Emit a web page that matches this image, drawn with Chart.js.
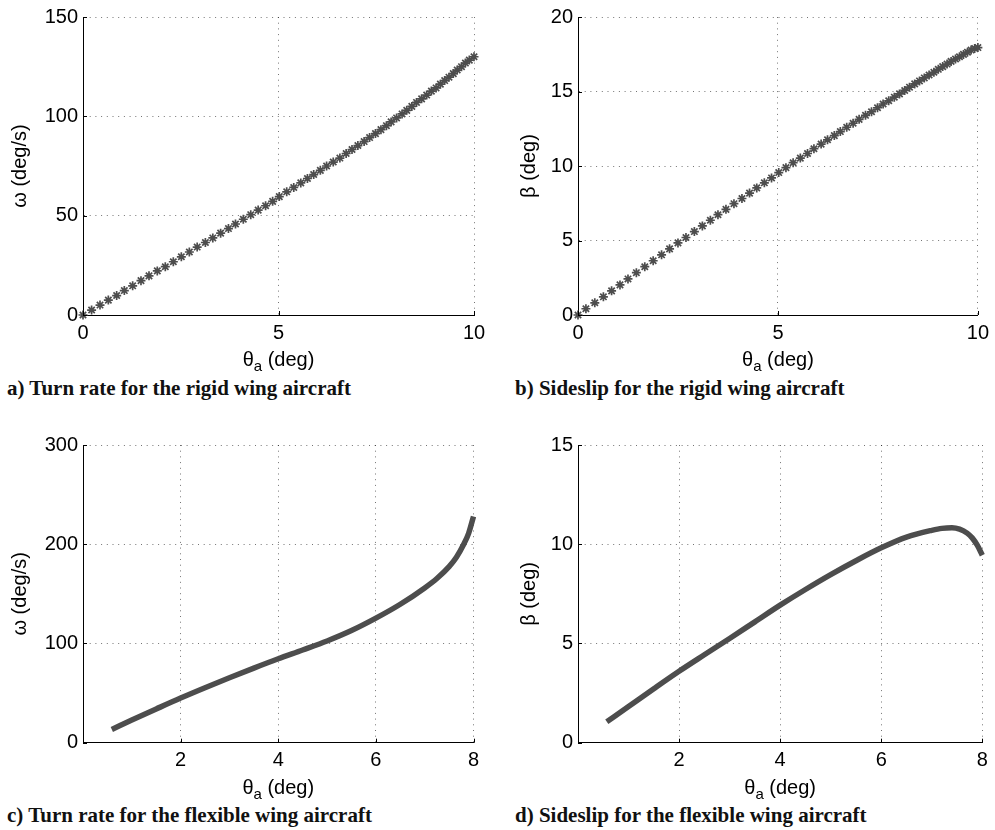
<!DOCTYPE html>
<html>
<head>
<meta charset="utf-8">
<script src="https://cdn.jsdelivr.net/npm/chart.js@4.4.0/dist/chart.umd.min.js"></script>
<style>
  body { margin: 0; background: #fff; width: 995px; height: 830px; position: relative; overflow: hidden; }
  canvas { position: absolute; }
  .caption { position: absolute; font-family: "Liberation Serif", "Times New Roman", serif; font-weight: bold;
             font-size: 21px; color: #111; white-space: nowrap; line-height: 22px; }
</style>
</head>
<body>
<canvas id="chart-a" width="495" height="375" style="left:0;top:0"></canvas>
<canvas id="chart-b" width="500" height="375" style="left:495px;top:0"></canvas>
<canvas id="chart-c" width="495" height="375" style="left:0;top:428px"></canvas>
<canvas id="chart-d" width="500" height="375" style="left:495px;top:428px"></canvas>
<div class="caption" style="left:7px;top:377px">a) Turn rate for the rigid wing aircraft</div>
<div class="caption" style="left:515px;top:377px">b) Sideslip for the rigid wing aircraft</div>
<div class="caption" style="left:7px;top:804px">c) Turn rate for the flexible wing aircraft</div>
<div class="caption" style="left:515px;top:804px">d) Sideslip for the flexible wing aircraft</div>

<script>
// a) rigid wing, turn rate (deg/s) vs aileron angle (deg)
const rigidTheta = [0, 0.22, 0.435, 0.648, 0.861, 1.057, 1.27, 1.483, 1.688, 1.90, 2.105, 2.31, 2.515, 2.72, 2.92,
  3.13, 3.32, 3.52, 3.72, 3.90, 4.10, 4.29, 4.48, 4.67, 4.85, 5.02, 5.21, 5.39, 5.57, 5.74, 5.90, 6.07, 6.23,
  6.40, 6.57, 6.73, 6.88, 7.03, 7.19, 7.33, 7.48, 7.62, 7.76, 7.88, 8.02, 8.16, 8.28, 8.41, 8.53, 8.66, 8.79,
  8.91, 9.03, 9.14, 9.25, 9.36, 9.47, 9.57, 9.68, 9.78, 9.88, 10.0];
const rigidOmega = [0, 2.5, 5.0, 7.5, 9.8, 12.3, 14.7, 17.3, 19.7, 22.2, 24.3, 26.8, 29.3, 31.7, 34.2,
  36.5, 38.8, 41.2, 43.5, 45.8, 48.2, 50.5, 52.8, 55.0, 57.2, 59.6, 62.0, 64.2, 66.5, 68.7, 70.7, 72.8, 75.0,
  77.0, 79.0, 81.3, 83.3, 85.3, 87.3, 89.3, 91.3, 93.3, 95.3, 97.2, 99.2, 101.2, 103.0, 105.0, 107.0, 108.8, 110.7,
  112.7, 114.3, 116.2, 118.0, 119.7, 121.5, 123.3, 125.0, 126.8, 128.3, 130.0];

// b) rigid wing, sideslip (deg)
const rigidThetaB = [0, 0.198, 0.42, 0.635, 0.84, 1.05, 1.25, 1.46, 1.67, 1.88, 2.09, 2.29, 2.50, 2.70, 2.91,
  3.11, 3.31, 3.50, 3.70, 3.90, 4.10, 4.29, 4.47, 4.66, 4.84, 5.02, 5.20, 5.38, 5.56, 5.74, 5.90, 6.08, 6.24,
  6.41, 6.56, 6.72, 6.88, 7.03, 7.19, 7.34, 7.49, 7.63, 7.77, 7.91, 8.04, 8.17, 8.29, 8.42, 8.54, 8.66, 8.78,
  8.90, 9.01, 9.12, 9.23, 9.33, 9.44, 9.54, 9.64, 9.74, 9.83, 9.92, 10.0];
const rigidBeta = [0, 0.42, 0.82, 1.22, 1.62, 2.02, 2.42, 2.84, 3.24, 3.64, 4.04, 4.44, 4.84, 5.2, 5.6,
  5.98, 6.36, 6.73, 7.09, 7.47, 7.82, 8.18, 8.53, 8.87, 9.2, 9.56, 9.89, 10.22, 10.53, 10.84, 11.16, 11.47, 11.76,
  12.04, 12.31, 12.6, 12.87, 13.13, 13.4, 13.64, 13.91, 14.16, 14.38, 14.62, 14.84, 15.07, 15.29, 15.51, 15.71, 15.91, 16.11,
  16.29, 16.49, 16.67, 16.84, 17.02, 17.18, 17.33, 17.49, 17.64, 17.78, 17.89, 17.95];

// c) flexible wing, turn rate
const flexThetaC = [0.59, 1.0, 1.5, 2.0, 2.5, 3.0, 3.5, 4.0, 4.5, 5.0, 5.5, 6.0, 6.5, 7.0, 7.25, 7.5, 7.65, 7.8, 7.9, 8.0];
const flexOmega = [13.4, 22.8, 34.0, 45.0, 55.4, 65.4, 75.2, 84.6, 93.4, 102.5, 113.0, 125.5, 139.5, 156.0, 165.5, 177.5, 187.0, 200.0, 211.0, 228.0];

// d) flexible wing, sideslip
const flexThetaD = [0.57, 1.0, 1.5, 2.0, 2.5, 3.0, 3.5, 4.0, 4.5, 5.0, 5.5, 6.0, 6.5, 7.0, 7.2, 7.4, 7.55, 7.7, 7.8, 7.9, 8.0];
const flexBeta = [1.05, 1.82, 2.72, 3.6, 4.43, 5.25, 6.09, 6.93, 7.72, 8.47, 9.17, 9.82, 10.36, 10.7, 10.8, 10.83, 10.76, 10.56, 10.32, 9.95, 9.45];

const FONT = '"Liberation Sans", Arial, Helvetica, sans-serif';
const FONT_SIZE = 20;

// inward ticks + x label with a subscript, like the matlab figure
const matlabAxes = {
  id: 'matlabAxes',
  afterDraw(chart) {
    const { ctx, chartArea: area, scales: { x, y } } = chart;
    ctx.save();
    ctx.strokeStyle = '#000';
    ctx.lineWidth = 1;
    ctx.beginPath();
    x.ticks.forEach((t) => {
      const px = Math.round(x.getPixelForValue(t.value)) + 0.5;
      ctx.moveTo(px, area.bottom);
      ctx.lineTo(px, area.bottom - 4);
    });
    y.ticks.forEach((t) => {
      const py = Math.round(y.getPixelForValue(t.value)) + 0.5;
      ctx.moveTo(area.left, py);
      ctx.lineTo(area.left + 4, py);
    });
    ctx.stroke();

    const mainFont = FONT_SIZE + 'px ' + FONT;
    const subFont = Math.round(FONT_SIZE * 0.75) + 'px ' + FONT;
    ctx.font = mainFont;
    const w1 = ctx.measureText('θ').width;
    const w3 = ctx.measureText(' (deg)').width;
    ctx.font = subFont;
    const w2 = ctx.measureText('a').width;
    let cx = (area.left + area.right) / 2 - (w1 + w2 + w3) / 2;
    const base = area.bottom + 51;
    ctx.fillStyle = '#000';
    ctx.textAlign = 'left';
    ctx.textBaseline = 'alphabetic';
    ctx.font = mainFont;
    ctx.fillText('θ', cx, base);
    ctx.font = subFont;
    ctx.fillText('a', cx + w1, base + 5);
    ctx.font = mainFont;
    ctx.fillText(' (deg)', cx + w1 + w2, base);
    ctx.restore();
  }
};

function makePanel(canvasId, geo, axes, dataset) {
  const canvas = document.getElementById(canvasId);
  return new Chart(canvas, {
    type: 'scatter',
    data: { datasets: [dataset] },
    plugins: [matlabAxes],
    options: {
      responsive: false,
      animation: false,
      layout: {
        padding: { left: 0, right: canvas.width - geo.right, top: geo.top, bottom: 0 }
      },
      plugins: {
        legend: { display: false },
        tooltip: { enabled: false }
      },
      scales: {
        x: {
          type: 'linear',
          min: axes.xMin,
          max: axes.xMax,
          afterFit: (scale) => { scale.height = canvas.height - geo.bottom; },
          afterBuildTicks: (scale) => {
            scale.ticks = axes.xTicks.map((v) => ({ value: v }));
          },
          ticks: {
            color: '#000',
            padding: 6,
            maxRotation: 0,
            font: { family: FONT, size: FONT_SIZE },
            callback: (v) => (axes.hideZeroX && v === 0 ? '' : v)
          },
          grid: { color: 'rgba(0,0,0,0.55)', lineWidth: 1, drawTicks: false },
          border: { display: true, color: '#000', width: 1, dash: [1, 4.7] }
        },
        y: {
          type: 'linear',
          min: axes.yMin,
          max: axes.yMax,
          afterFit: (scale) => { scale.width = geo.left; },
          afterBuildTicks: (scale) => {
            scale.ticks = axes.yTicks.map((v) => ({ value: v }));
          },
          ticks: {
            color: '#000',
            padding: 5,
            font: { family: FONT, size: FONT_SIZE }
          },
          grid: { color: 'rgba(0,0,0,0.55)', lineWidth: 1, drawTicks: false },
          border: { display: true, color: '#000', width: 1, dash: [1, 4.7] },
          title: {
            display: true,
            text: axes.yTitle,
            color: '#000',
            font: { family: FONT, size: FONT_SIZE },
            padding: { top: geo.titleCenter - FONT_SIZE * 0.6, bottom: 0 }
          }
        }
      }
    }
  });
}

function toPoints(xs, ys) {
  return xs.map((v, i) => ({ x: v, y: ys[i] }));
}

const starSet = (xs, ys) => ({
  data: toPoints(xs, ys),
  showLine: false,
  pointStyle: 'star',
  pointRadius: 4.5,
  borderWidth: 1.7,
  borderColor: '#4d4d4d',
  backgroundColor: '#4d4d4d',
  clip: false
});

const lineSet = (xs, ys) => ({
  data: toPoints(xs, ys),
  showLine: true,
  pointRadius: 0,
  borderWidth: 5.5,
  borderColor: '#4d4d4d',
  cubicInterpolationMode: 'monotone',
  clip: false
});

makePanel('chart-a',
  { left: 83, right: 474, top: 15, bottom: 315, titleCenter: 20 },
  { xMin: 0, xMax: 10, xTicks: [0, 5, 10], yMin: 0, yMax: 150, yTicks: [0, 50, 100, 150], yTitle: 'ω (deg/s)' },
  starSet(rigidTheta, rigidOmega));

makePanel('chart-b',
  { left: 83, right: 487.3, top: 15, bottom: 315, titleCenter: 34 },
  { xMin: 0, xMax: 10, xTicks: [0, 5, 10], yMin: 0, yMax: 20, yTicks: [0, 5, 10, 15, 20], yTitle: 'β (deg)' },
  starSet(rigidThetaB, rigidBeta));

makePanel('chart-c',
  { left: 83, right: 473.5, top: 14.7, bottom: 314.7, titleCenter: 20 },
  { xMin: 0, xMax: 8, xTicks: [0, 2, 4, 6, 8], hideZeroX: true, yMin: 0, yMax: 300, yTicks: [0, 100, 200, 300], yTitle: 'ω (deg/s)' },
  lineSet(flexThetaC, flexOmega));

makePanel('chart-d',
  { left: 83, right: 487.3, top: 14.7, bottom: 314.7, titleCenter: 34 },
  { xMin: 0, xMax: 8, xTicks: [0, 2, 4, 6, 8], hideZeroX: true, yMin: 0, yMax: 15, yTicks: [0, 5, 10, 15], yTitle: 'β (deg)' },
  lineSet(flexThetaD, flexBeta));
</script>
</body>
</html>
